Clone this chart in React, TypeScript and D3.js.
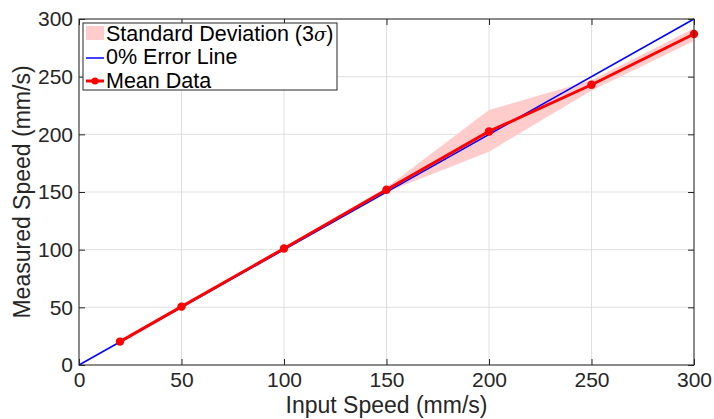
import { useEffect, useRef } from 'react';
import * as d3 from 'd3';

const inputSpeed = [20, 50, 100, 150, 200, 250, 300];
const meanSpeed = [20.3, 50.6, 101, 152, 202.5, 243, 287];
const upperBand = [21.2, 51.5, 102, 154, 221, 247, 292];
const lowerBand = [19.4, 49.7, 100, 150, 185, 238, 281];
const errorLine = [0, 300];
const tickValues = [0, 50, 100, 150, 200, 250, 300];
const legendLabels = ['Standard Deviation (3', '0% Error Line', 'Mean Data'];

const W = 714;
const H = 419;

const App = () => {
  const svgRef = useRef<SVGSVGElement | null>(null);

  useEffect(() => {
    const root = d3.select(svgRef.current);
    root.selectAll('*').remove();

    const margin = { top: 19, right: 20, bottom: 54, left: 79 };
    const width = W - margin.left - margin.right;
    const height = H - margin.top - margin.bottom;
    const font = 'Liberation Sans, Arial, Helvetica, sans-serif';
    const axisColor = '#262626';

    const svg = root.append('g')
      .attr('transform', `translate(${margin.left},${margin.top})`);

    const x = d3.scaleLinear().domain([0, 300]).range([0, width]);
    const y = d3.scaleLinear().domain([0, 300]).range([height, 0]);

    // grid
    svg.append('g')
      .selectAll('line')
      .data(tickValues)
      .enter()
      .append('line')
      .attr('x1', d => x(d)).attr('x2', d => x(d))
      .attr('y1', 0).attr('y2', height)
      .style('stroke', '#dfdfdf').style('stroke-width', 1);
    svg.append('g')
      .selectAll('line')
      .data(tickValues)
      .enter()
      .append('line')
      .attr('x1', 0).attr('x2', width)
      .attr('y1', d => y(d)).attr('y2', d => y(d))
      .style('stroke', '#dfdfdf').style('stroke-width', 1);

    // std band
    const idx = d3.range(inputSpeed.length);
    const area = d3.area<number>()
      .x(i => x(inputSpeed[i]))
      .y0(i => y(lowerBand[i]))
      .y1(i => y(upperBand[i]));
    svg.append('path')
      .datum(idx)
      .attr('d', area)
      .style('fill', '#ffcccc')
      .style('stroke', 'none');

    // 0% error line
    const line = d3.line<number>().x(d => x(d)).y(d => y(d));
    svg.append('path')
      .datum(errorLine)
      .attr('d', line)
      .style('fill', 'none')
      .style('stroke', '#0000ff')
      .style('stroke-width', 1.5);

    // mean data
    const meanLine = d3.line<number>()
      .x(i => x(inputSpeed[i]))
      .y(i => y(meanSpeed[i]));
    svg.append('path')
      .datum(idx)
      .attr('d', meanLine)
      .style('fill', 'none')
      .style('stroke', '#ff0000')
      .style('stroke-width', 3);
    svg.selectAll('.dot')
      .data(idx)
      .enter()
      .append('circle')
      .attr('class', 'dot')
      .attr('cx', i => x(inputSpeed[i]))
      .attr('cy', i => y(meanSpeed[i]))
      .attr('r', 4.2)
      .style('fill', '#ff0000');

    // axes box with inward ticks
    const tickLen = 6;
    const axisStyle = (g: d3.Selection<SVGGElement, unknown, null, undefined>) => {
      g.select('.domain').remove();
      g.selectAll('.tick line').style('stroke', axisColor).style('stroke-width', 1);
      g.selectAll('.tick text')
        .style('font-family', font)
        .style('font-size', '21px')
        .style('fill', axisColor);
    };

    svg.append('g')
      .attr('transform', `translate(0,${height})`)
      .call(d3.axisBottom(x).tickValues(tickValues).tickSizeInner(-tickLen).tickSizeOuter(0).tickPadding(7))
      .call(axisStyle);
    svg.append('g')
      .call(d3.axisTop(x).tickValues(tickValues).tickSizeInner(-tickLen).tickSizeOuter(0).tickFormat(() => ''))
      .call(axisStyle);
    svg.append('g')
      .call(d3.axisLeft(y).tickValues(tickValues).tickSizeInner(-tickLen).tickSizeOuter(0).tickPadding(6))
      .call(axisStyle);
    svg.append('g')
      .attr('transform', `translate(${width},0)`)
      .call(d3.axisRight(y).tickValues(tickValues).tickSizeInner(-tickLen).tickSizeOuter(0).tickFormat(() => ''))
      .call(axisStyle);

    svg.append('rect')
      .attr('x', 0).attr('y', 0)
      .attr('width', width).attr('height', height)
      .style('fill', 'none')
      .style('stroke', axisColor)
      .style('stroke-width', 1);

    // axis labels
    svg.append('text')
      .attr('x', width / 2)
      .attr('y', height + 48)
      .attr('text-anchor', 'middle')
      .style('font-family', font)
      .style('font-size', '23px')
      .style('fill', axisColor)
      .text('Input Speed (mm/s)');
    svg.append('text')
      .attr('transform', 'rotate(-90)')
      .attr('x', -height / 2)
      .attr('y', -margin.left + 30)
      .attr('text-anchor', 'middle')
      .style('font-family', font)
      .style('font-size', '23px')
      .style('fill', axisColor)
      .text('Measured Speed (mm/s)');

    // legend
    const legend = svg.append('g').attr('transform', 'translate(4,4)');
    legend.append('rect')
      .attr('x', 0).attr('y', 0)
      .attr('width', 254).attr('height', 67)
      .style('fill', 'white')
      .style('stroke', axisColor)
      .style('stroke-width', 1);
    legend.append('rect')
      .attr('x', 3).attr('y', 3)
      .attr('width', 18).attr('height', 14)
      .style('fill', '#ffcccc');
    legend.append('line')
      .attr('x1', 3).attr('x2', 21)
      .attr('y1', 35).attr('y2', 35)
      .style('stroke', '#0000ff').style('stroke-width', 1.5);
    legend.append('line')
      .attr('x1', 3).attr('x2', 21)
      .attr('y1', 58).attr('y2', 58)
      .style('stroke', '#ff0000').style('stroke-width', 3);
    legend.append('circle')
      .attr('cx', 12).attr('cy', 58).attr('r', 3.5)
      .style('fill', '#ff0000');

    legendLabels.forEach((t, i) => {
      const txt = legend.append('text')
        .attr('x', 23)
        .attr('y', 17.5 + i * 23.5)
        .style('font-family', font)
        .style('font-size', '21.5px')
        .style('fill', '#000');
      txt.append('tspan').text(t);
      if (i === 0) {
        txt.append('tspan')
          .style('font-family', 'DejaVu Serif, serif')
          .style('font-style', 'italic')
          .style('font-size', '18px')
          .text('σ');
        txt.append('tspan').text(')');
      }
    });
  }, []);

  return (
    <svg
      ref={svgRef}
      width={W}
      height={H}
      style={{ position: 'absolute', left: 0, top: 0, background: 'white' }}
    />
  );
};

export default App;
